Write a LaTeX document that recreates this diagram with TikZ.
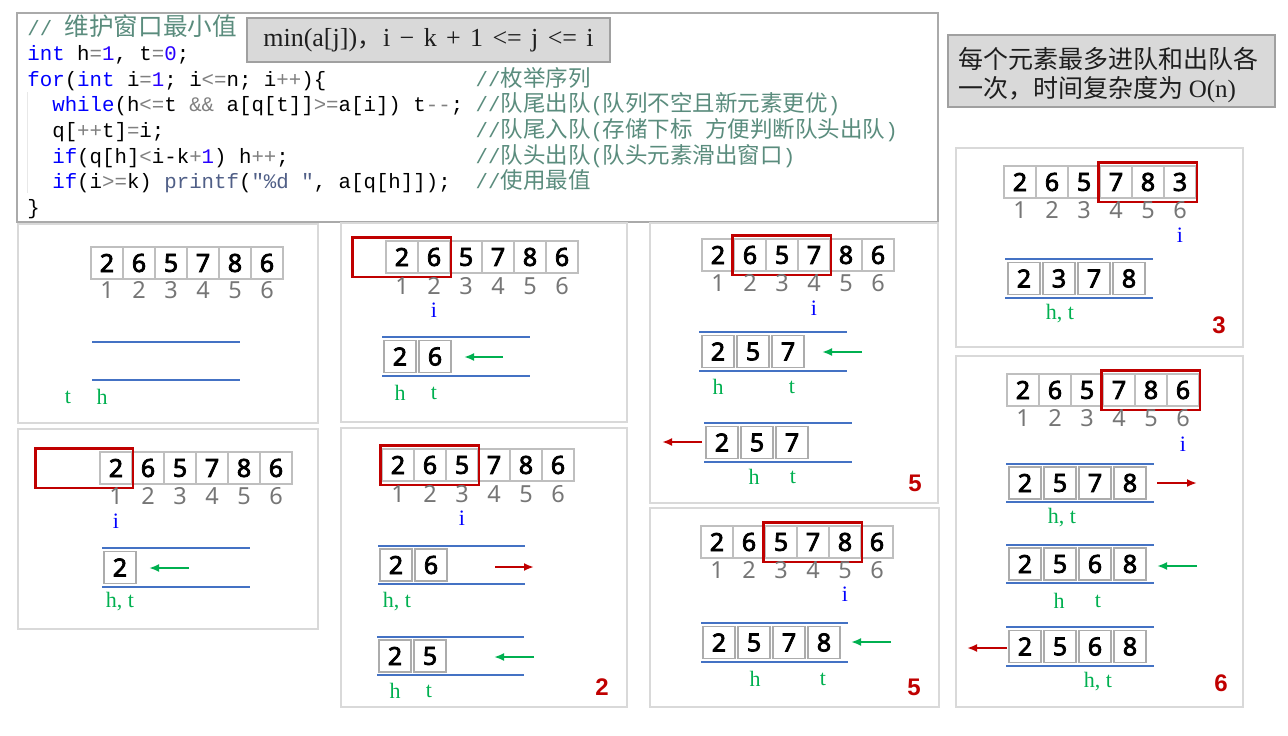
\documentclass[tikz,border=0pt]{standalone}
\usepackage{fontspec}
\usetikzlibrary{arrows.meta,calc}
\setmainfont{Liberation Serif}
\newfontfamily\codefont{Liberation Mono}
\newfontfamily\cjk{Noto Sans CJK SC}
\newfontfamily\digf{Noto Sans}
\newfontfamily\digb[FakeBold=3]{Noto Sans}
\newfontfamily\resf{Liberation Sans}
\definecolor{kwc}{RGB}{0,0,255}
\definecolor{opc}{RGB}{128,128,128}
\definecolor{numc}{RGB}{40,0,255}
\definecolor{fnc}{RGB}{80,95,135}
\definecolor{cmc}{RGB}{90,140,125}
\definecolor{qblue}{RGB}{68,114,196}
\definecolor{wred}{RGB}{192,0,0}
\definecolor{lgreen}{RGB}{0,176,80}
\definecolor{iblue}{RGB}{0,0,255}
\definecolor{idxgray}{RGB}{118,118,118}
\definecolor{boxgray}{RGB}{217,217,217}
\definecolor{boxedge}{RGB}{160,160,160}
\definecolor{panedge}{RGB}{217,217,217}
\definecolor{codeedge}{RGB}{170,170,170}
\definecolor{notec}{RGB}{30,30,30}
\newcommand\cKw[1]{\textcolor{kwc}{#1}}
\newcommand\cOp[1]{\textcolor{opc}{#1}}
\newcommand\cNum[1]{\textcolor{numc}{#1}}
\newcommand\cFn[1]{\textcolor{fnc}{#1}}
\newcommand\cZh[1]{{\cjk\fontsize{22.5}{22.5}\selectfont #1}}
\tikzset{
  acell/.style={draw=gray!50, line width=1.2pt, fill=white, minimum size=32pt, inner sep=0pt,
    font=\digb\fontsize{25}{25}\selectfont},
  qcell/.style={draw=gray!65, line width=1.5pt, fill=white, minimum size=32pt, inner sep=0pt,
    font=\digb\fontsize{25}{25}\selectfont},
  idx/.style={inner sep=0pt, text=idxgray, font=\digf\fontsize{23.5}{23.5}\selectfont},
  lab/.style={inner sep=0pt, text=lgreen, font=\rmfamily\fontsize{22}{22}\selectfont},
  ilab/.style={lab, text=iblue},
  res/.style={inner sep=0pt, text=wred, font=\resf\bfseries\fontsize{24}{24}\selectfont},
  qline/.style={draw=qblue, line width=2.2pt},
  win/.style={draw=wred, line width=2.2pt},
  garrow/.style={draw=lgreen, line width=2pt, -{Latex[length=10pt,width=8pt]}},
  rarrow/.style={draw=wred, line width=2pt, -{Latex[length=10pt,width=8pt]}},
  panel/.style={draw=panedge, line width=1.5pt, fill=white},
  code/.style={inner sep=0pt, anchor=base west, font=\codefont\fontsize{20.75}{20.75}\selectfont},
}
\newcommand\mkarray[4]{%
  \foreach \v [count=\k] in {#4}{\node[acell] (#1\k) at ({#2+16+32*(\k-1)},{#3+16}) {\v};}}
\newcommand\mkindex[3]{%
  \foreach \k in {1,...,6}{\node[idx] (#1n\k) at ({#2+16+32*(\k-1)},#3) {\k};}}
\newcommand\mkqlines[5]{%
  \coordinate (#1tl) at (#2,#4); \coordinate (#1tr) at (#3,#4);
  \coordinate (#1bl) at (#2,#5); \coordinate (#1br) at (#3,#5);
  \draw[qline] (#1tl) -- (#1tr); \draw[qline] (#1bl) -- (#1br);}
\newcommand\mkqueue[7]{%
  \mkqlines{#1}{#2}{#3}{#4}{#5}%
  \foreach \v [count=\k] in {#7}{\node[qcell] (#1c\k) at ({#6+16+35*(\k-1)},{(#4+#5)/2}) {\v};}}
\begin{document}
\begin{tikzpicture}[x=1pt,y=-1pt]
\useasboundingbox[fill=white] (0,0) rectangle (1288,736);
% ---------- code box ----------
\draw[draw=codeedge, line width=1.5pt, fill=white] (17,13) rectangle (938,222);
\draw[gray!18, line width=0.8pt] (27.5,92) -- (27.5,193);
\node[code] (c1) at (27.2,35) {\textcolor{cmc}{// {\cjk\fontsize{24.6}{24.6}\selectfont 维护窗口最小值}}};
\node[code] (c2) at (27.2,60.6) {\cKw{int} h\cOp{=}\cNum{1}, t\cOp{=}\cNum{0};};
\node[code] (c3) at (27.2,86.2) {\cKw{for}(\cKw{int} i\cOp{=}\cNum{1}; i\cOp{<=}n; i\cOp{++})\{};
\node[code] (c4) at (52.1,111.8) {\cKw{while}(h\cOp{<=}t \cOp{\&\&} a[q[t]]\cOp{>=}a[i]) t\cOp{-{}-};};
\node[code] (c5) at (52.1,137.4) {q[\cOp{++}t]\cOp{=}i;};
\node[code] (c6) at (52.1,163) {\cKw{if}(q[h]\cOp{<}i-k\cOp{+}\cNum{1}) h\cOp{++};};
\node[code] (c7) at (52.1,188.6) {\cKw{if}(i\cOp{>=}k) \cFn{printf}(\cFn{"\%d "}, a[q[h]]);};
\node[code] (c8) at (27.2,214.2) {\}};
\node[code] (m3) at (475.4,86.2) {\textcolor{cmc}{//\cZh{枚举序列}}};
\node[code] (m4) at (475.4,111.8) {\textcolor{cmc}{//\cZh{队尾出队}(\cZh{队列不空且新元素更优})}};
\node[code] (m5) at (475.4,137.4) {\textcolor{cmc}{//\cZh{队尾入队}(\cZh{存储下标} \cZh{方便判断队头出队})}};
\node[code] (m6) at (475.4,163) {\textcolor{cmc}{//\cZh{队头出队}(\cZh{队头元素滑出窗口})}};
\node[code] (m7) at (475.4,188.6) {\textcolor{cmc}{//\cZh{使用最值}}};
% ---------- formula box ----------
\node[draw=boxedge, fill=boxgray, line width=1.5pt, minimum width=363pt, minimum height=44pt, inner sep=0pt,
  font=\rmfamily\fontsize{26}{26}\selectfont, text=notec] (formula) at (428.5,40)
  {\spaceskip=0.36em min(a[j]){\cjk\fontsize{24}{24}\selectfont ，}\hspace{2pt}i − k + 1 <= j <= i};
% ---------- note box ----------
\node[draw=boxedge, fill=boxgray, line width=1.5pt, minimum width=327pt, minimum height=72pt, inner sep=0pt] (note) at (1111.5,71) {};
\node[anchor=base west, inner sep=0pt, font=\cjk\fontsize{25}{25}\selectfont, text=notec] (note1) at (958,68.5) {每个元素最多进队和出队各};
\node[anchor=base west, inner sep=0pt, font=\cjk\fontsize{25}{25}\selectfont, text=notec] (note2) at (958,97) {一次，时间复杂度为 {\rmfamily O(n)}};
% ---------- panels ----------
\draw[panel] (18,224) rectangle (318,423);
\draw[panel] (341,223) rectangle (627,422);
\draw[panel] (650,223) rectangle (938,503);
\draw[panel] (956,148) rectangle (1243,347);
\draw[panel] (18,429) rectangle (318,629);
\draw[panel] (341,428) rectangle (627,707);
\draw[panel] (650,508) rectangle (939,707);
\draw[panel] (956,356) rectangle (1243,707);
% ---------- panel A ----------
\mkarray{A}{91}{247}{2,6,5,7,8,6}
\mkindex{A}{91}{290}
\mkqlines{Aq}{92}{240}{342}{380}
\node[lab] (At) at (68,397) {t};
\node[lab] (Ah) at (102,397) {h};
% ---------- panel B ----------
\mkarray{B}{386}{241}{2,6,5,7,8,6}
\draw[win] ([shift={(-33pt,3pt)}]B1.north west) rectangle ([shift={(0pt,-3pt)}]B2.south east);
\mkindex{B}{386}{286}
\node[ilab] (Bi) at (434,310) {i};
\mkqueue{Bq}{382}{530}{337}{376}{384}{2,6}
\coordinate (Bg1) at (503,357); \coordinate (Bg2) at (464,357);
\draw[garrow] (Bg1) -- (Bg2);
\node[lab] (Bh) at (400,393) {h};
\node[lab] (Bt) at (434,393) {t};
% ---------- panel C ----------
\mkarray{C}{702}{239}{2,6,5,7,8,6}
\draw[win] ([shift={(-1pt,3pt)}]C2.north west) rectangle ([shift={(0pt,-3pt)}]C4.south east);
\mkindex{C}{702}{283}
\node[ilab] (Ci) at (814,308) {i};
\mkqueue{Cq}{699}{847}{332}{371}{702}{2,5,7}
\coordinate (Cg1) at (862,352); \coordinate (Cg2) at (822,352);
\draw[garrow] (Cg1) -- (Cg2);
\node[lab] (Ch) at (718,387) {h};
\node[lab] (Ct) at (792,387) {t};
\mkqueue{Cr}{704}{852}{423}{462}{706}{2,5,7}
\coordinate (Cr1) at (702,442); \coordinate (Cr2) at (662,442);
\draw[rarrow] (Cr1) -- (Cr2);
\node[lab] (Ch2) at (754,477) {h};
\node[lab] (Ct2) at (793,477) {t};
\node[res] (Cres) at (915,483) {5};
% ---------- panel E ----------
\mkarray{E}{100}{452}{2,6,5,7,8,6}
\draw[win] ([shift={(-64pt,3pt)}]E1.north west) rectangle ([shift={(0pt,-3pt)}]E1.south east);
\mkindex{E}{100}{496}
\node[ilab] (Ei) at (116,521) {i};
\mkqueue{Eq}{102}{250}{548}{587}{104}{2}
\coordinate (Eg1) at (189,568); \coordinate (Eg2) at (149,568);
\draw[garrow] (Eg1) -- (Eg2);
\node[lab] (Eht) at (120,602) {h, t};
% ---------- panel F ----------
\mkarray{F}{382}{449}{2,6,5,7,8,6}
\draw[win] ([shift={(-1pt,3pt)}]F1.north west) rectangle ([shift={(0pt,-3pt)}]F3.south east);
\mkindex{F}{382}{494}
\node[ilab] (Fi) at (462,518) {i};
\mkqueue{Fq}{378}{525}{546}{584}{380}{2,6}
\coordinate (Fr1) at (495,567); \coordinate (Fr2) at (534,567);
\draw[rarrow] (Fr1) -- (Fr2);
\node[lab] (Fht) at (397,602) {h, t};
\mkqueue{Fs}{377}{524}{637}{675}{379}{2,5}
\coordinate (Fg1) at (534,657); \coordinate (Fg2) at (494,657);
\draw[garrow] (Fg1) -- (Fg2);
\node[lab] (Fh) at (395,691) {h};
\node[lab] (Ft) at (429,691) {t};
\node[res] (Fres) at (602,687) {2};
% ---------- panel G ----------
\mkarray{G}{701}{526}{2,6,5,7,8,6}
\draw[win] ([shift={(-1pt,3pt)}]G3.north west) rectangle ([shift={(0pt,-3pt)}]G5.south east);
\mkindex{G}{701}{570}
\node[ilab] (Gi) at (845,594) {i};
\mkqueue{Gq}{701}{848}{623}{662}{703}{2,5,7,8}
\coordinate (Gg1) at (891,642); \coordinate (Gg2) at (851,642);
\draw[garrow] (Gg1) -- (Gg2);
\node[lab] (Gh) at (755,679) {h};
\node[lab] (Gt) at (823,679) {t};
\node[res] (Gres) at (914,687) {5};
% ---------- panel D ----------
\mkarray{D}{1004}{166}{2,6,5,7,8,3}
\draw[win] ([shift={(-1pt,3pt)}]D4.north west) rectangle ([shift={(0pt,-3pt)}]D6.south east);
\mkindex{D}{1004}{210}
\node[ilab] (Di) at (1180,235) {i};
\mkqueue{Dq}{1005}{1153}{259}{298}{1008}{2,3,7,8}
\node[lab] (Dht) at (1060,314) {h, t};
\node[res] (Dres) at (1219,325) {3};
% ---------- panel H ----------
\mkarray{H}{1007}{374}{2,6,5,7,8,6}
\draw[win] ([shift={(-1pt,3pt)}]H4.north west) rectangle ([shift={(0pt,-3pt)}]H6.south east);
\mkindex{H}{1007}{418}
\node[ilab] (Hi) at (1183,444) {i};
\mkqueue{Hq}{1006}{1154}{464}{502}{1009}{2,5,7,8}
\coordinate (Hr1) at (1157,483); \coordinate (Hr2) at (1197,483);
\draw[rarrow] (Hr1) -- (Hr2);
\node[lab] (Hht) at (1062,518) {h, t};
\mkqueue{Hs}{1006}{1154}{545}{583}{1009}{2,5,6,8}
\coordinate (Hg1) at (1197,566); \coordinate (Hg2) at (1157,566);
\draw[garrow] (Hg1) -- (Hg2);
\node[lab] (Hh) at (1059,601) {h};
\node[lab] (Ht) at (1098,601) {t};
\mkqueue{Hu}{1006}{1154}{627}{666}{1009}{2,5,6,8}
\coordinate (Hr3) at (1007,648); \coordinate (Hr4) at (967,648);
\draw[rarrow] (Hr3) -- (Hr4);
\node[lab] (Hht2) at (1098,682) {h, t};
\node[res] (Hres) at (1221,683) {6};
\end{tikzpicture}
\end{document}
